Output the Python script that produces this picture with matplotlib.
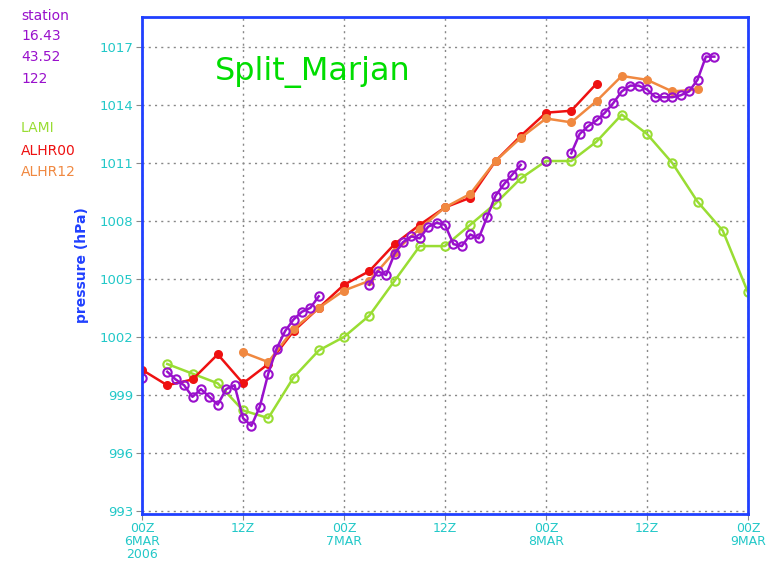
import numpy as np
import matplotlib
matplotlib.use('Agg')
import matplotlib.pyplot as plt

nan = np.nan

# hours since 00Z 6MAR2006
lami_h = [3, 6, 9, 12, 15, 18, 21, 24, 27, 30, 33, 36, 39, 42, 45, 48, 51, 54,
          57, 60, 63, 66, 69, 72]
lami_p = [1000.6, 1000.1, 999.6, 998.2, 997.8, 999.9, 1001.3, 1002.0, 1003.1,
          1004.9, 1006.7, 1006.7, 1007.8, 1008.9, 1010.2, 1011.1, 1011.1, 1012.1,
          1013.5, 1012.5, 1011.0, 1009.0, 1007.5, 1004.3]

alhr00_h = [0, 3, 6, 9, 12, 15, 18, 21, 24, 27, 30, 33, 36, 39, 42, 45, 48, 51, 54]
alhr00_p = [1000.3, 999.5, 999.8, 1001.1, 999.6, 1000.6, 1002.3, 1003.5, 1004.7,
            1005.4, 1006.8, 1007.8, 1008.7, 1009.2, 1011.1, 1012.4, 1013.6,
            1013.7, 1015.1]

alhr12_h = [12, 15, 18, 21, 24, 27, 30, 33, 36, 39, 42, 45, 48, 51, 54, 57, 60, 63, 66]
alhr12_p = [1001.2, 1000.7, 1002.4, 1003.5, 1004.4, 1004.9, 1006.4, 1007.6,
            1008.7, 1009.4, 1011.1, 1012.3, 1013.3, 1013.1, 1014.2, 1015.5,
            1015.3, 1014.7, 1014.8]

stat_h = list(range(0, 69))
stat_p = [999.9, nan, nan, 1000.2, 999.8, 999.5, 998.9, 999.3, 998.9, 998.5,
          999.3, 999.5, 997.8, 997.4, 998.4, 1000.1, 1001.4, 1002.3, 1002.9,
          1003.3, 1003.5, 1004.1, nan, nan, nan, nan, nan, 1004.7, 1005.4,
          1005.2, 1006.3, 1006.9, 1007.2, 1007.1, 1007.7, 1007.9, 1007.8,
          1006.8, 1006.7, 1007.3, 1007.1, 1008.2, 1009.3, 1009.9, 1010.4,
          1010.9, nan, nan, 1011.1, nan, nan, 1011.5, 1012.5, 1012.9, 1013.2,
          1013.6, 1014.1, 1014.7, 1015.0, 1015.0, 1014.8, 1014.4, 1014.4,
          1014.4, 1014.5, 1014.7, 1015.3, 1016.5, 1016.5]

xticks = [0, 12, 24, 36, 48, 60, 72]
xlabels = ['00Z\n6MAR\n2006', '12Z', '00Z\n7MAR', '12Z', '00Z\n8MAR', '12Z', '00Z\n9MAR']
yticks = list(range(993, 1018, 3))

c_lami = '#99dd33'
c_r00 = '#ee1111'
c_r12 = '#f08840'
c_stat = '#9910cc'
c_tick = '#22c8c8'
c_frame = '#2040ff'

fig = plt.figure(figsize=(7.8, 5.66), dpi=100)
ax = fig.add_axes([142 / 780, 52 / 566, 606 / 780, 497 / 566])

ax.plot(lami_h, lami_p, '-o', color=c_lami, lw=1.8, ms=6, mfc='none', mew=1.5)
ax.plot(alhr00_h, alhr00_p, '-o', color=c_r00, lw=1.8, ms=5, mew=1.5)
ax.plot(alhr12_h, alhr12_p, '-o', color=c_r12, lw=1.8, ms=5, mew=1.5)
ax.plot(stat_h, stat_p, '-o', color=c_stat, lw=1.8, ms=6, mfc='none', mew=1.5)

ax.set_xlim(0, 72)
ax.set_ylim(992.84, 1018.55)
ax.set_xticks(xticks)
ax.set_xticklabels(xlabels, color=c_tick, fontsize=9, linespacing=1.0)
ax.set_yticks(yticks)
ax.set_yticklabels([str(v) for v in yticks], color=c_tick, fontsize=9.5)
ax.tick_params(direction='out', length=4, color='#888888', pad=2)
ax.grid(True, color='#888888', lw=1, ls=(0, (1.5, 3)))
ax.set_axisbelow(True)
for s in ax.spines.values():
    s.set_color(c_frame)
    s.set_linewidth(2)

ax.set_ylabel('pressure (hPa)', color=c_frame, fontweight='bold', fontsize=10, labelpad=8)
ax.text(8.6, 1015.7, 'Split_Marjan', color='#00dd00', fontsize=23, ha='left', va='center')

# station info and legend on the left
left_txt = [('station', 16, c_stat), ('16.43', 36, c_stat), ('43.52', 57, c_stat),
            ('122', 79, c_stat), ('LAMI', 128, c_lami), ('ALHR00', 151, c_r00),
            ('ALHR12', 172, c_r12)]
for t, ypx, c in left_txt:
    fig.text(21 / 780, 1 - ypx / 566, t, color=c, fontsize=10, ha='left', va='center')

fig.savefig('out.png', dpi=100)
